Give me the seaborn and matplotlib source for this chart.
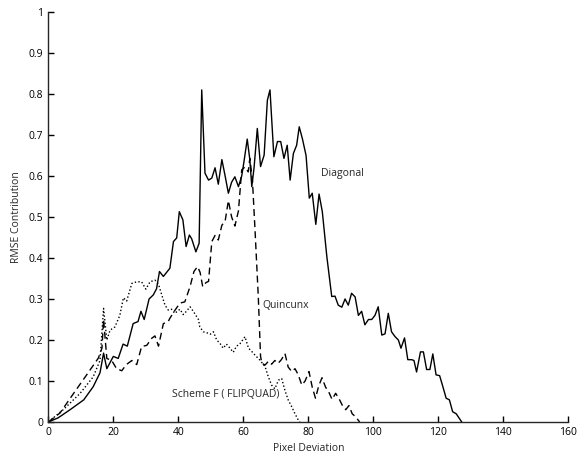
import numpy as np
import pandas as pd
import matplotlib
matplotlib.use("Agg")
import matplotlib.pyplot as plt
import seaborn as sns

# ---- data ----
diag_x = [0, 3, 6.7, 10.9, 13.8, 15.9, 17, 18, 19, 20, 21.5, 23, 24.3, 26.1, 27.6, 28.5, 29.5,
          31, 32.3, 33.3, 34.2, 35.4, 37.4, 38.5, 39.5, 40.3, 41.4, 42.4, 43.4, 44.1, 45.4, 46.4,
          47.2, 48.2, 49.3, 50.3, 51.3, 52.3, 53.4, 54.4, 55.4, 56.4, 57.4, 58.5, 59.5, 60.2, 61.2,
          62, 62.6, 63.3, 64.3, 65.3, 66.4, 67.4, 68.2, 69.4, 70.5, 71.5, 72.5, 73.5, 74.4, 75.4,
          76.4, 77.2, 78.2, 79.3, 80.3, 81.2, 82.3, 83.3, 84.3, 85.7, 87.2, 88.2, 89.2, 90.3, 91.3,
          92.3, 93.3, 94.4, 95.4, 96.4, 97.4, 98.5, 99.5, 100.5, 101.5, 102.6, 103.6, 104.6, 105.6,
          106.7, 107.7, 108.5, 109.6, 110.6, 111.8, 112.5, 113.3, 114.5, 115.4, 116.4, 117.4, 118.3,
          119.3, 120.4, 121.4, 122.4, 123.4, 124.4, 125.5, 127.2]
diag_y = [0, 0.01, 0.03, 0.054, 0.086, 0.12, 0.168, 0.13, 0.145, 0.16, 0.155, 0.19, 0.185, 0.24,
          0.245, 0.27, 0.25, 0.3, 0.31, 0.325, 0.367, 0.355, 0.375, 0.44, 0.449, 0.513, 0.493,
          0.428, 0.456, 0.447, 0.415, 0.436, 0.81, 0.607, 0.59, 0.595, 0.62, 0.58, 0.64, 0.6, 0.558,
          0.585, 0.598, 0.574, 0.6, 0.635, 0.69, 0.64, 0.574, 0.62, 0.716, 0.623, 0.651, 0.785,
          0.81, 0.647, 0.684, 0.684, 0.643, 0.675, 0.59, 0.655, 0.675, 0.72, 0.69, 0.65, 0.546,
          0.558, 0.482, 0.556, 0.513, 0.403, 0.306, 0.307, 0.285, 0.28, 0.3, 0.285, 0.314, 0.305,
          0.26, 0.27, 0.237, 0.25, 0.25, 0.26, 0.281, 0.212, 0.215, 0.265, 0.22, 0.208, 0.2, 0.18,
          0.205, 0.152, 0.152, 0.15, 0.122, 0.171, 0.171, 0.128, 0.128, 0.166, 0.115, 0.113, 0.086,
          0.058, 0.054, 0.025, 0.02, 0]

quin_x = [0, 3.6, 7.8, 11.8, 15.4, 16.5, 17, 18, 19.5, 21, 22.6, 24, 25.7, 27.2, 28.7, 30.3,
          31.8, 32.8, 33.9, 35.4, 36.9, 37.4, 39, 40.5, 42, 43.6, 44.8, 45.9, 46.7, 47.5, 48.5,
          49.3, 50.3, 51.3, 52.3, 53.4, 54.4, 55.4, 56.4, 57.4, 58.5, 59.5, 60.5, 61.5, 62, 62.8,
          63.6, 64.6, 65.3, 65.7, 66.7, 67.7, 68.7, 69.7, 70.7, 71.7, 72.8, 73.8, 74.9, 75.9, 76.9,
          78, 79, 80.2, 81.2, 82.2, 83.2, 84.2, 85.3, 86.3, 87.3, 88.4, 89.5, 90.5, 91.5, 92.5,
          93.5, 94.5, 95.8]
quin_y = [0, 0.022, 0.07, 0.115, 0.156, 0.18, 0.25, 0.155, 0.15, 0.13, 0.125, 0.14, 0.15, 0.14,
          0.184, 0.187, 0.204, 0.21, 0.185, 0.24, 0.245, 0.253, 0.273, 0.29, 0.293, 0.33, 0.367,
          0.379, 0.365, 0.33, 0.34, 0.343, 0.44, 0.455, 0.444, 0.48, 0.49, 0.54, 0.5, 0.478, 0.515,
          0.615, 0.622, 0.61, 0.643, 0.59, 0.468, 0.306, 0.16, 0.143, 0.139, 0.148, 0.141, 0.15,
          0.143, 0.152, 0.167, 0.134, 0.123, 0.13, 0.115, 0.09, 0.1, 0.123, 0.085, 0.058, 0.088,
          0.108, 0.085, 0.073, 0.055, 0.07, 0.056, 0.04, 0.03, 0.04, 0.02, 0.013, 0]

flip_x = [0, 4.6, 9.8, 13.8, 15.9, 17, 18, 19, 20.5, 22, 23.1, 24.1, 25.7, 27.2, 28.7, 30, 31.3,
          32.8, 33.9, 34.9, 35.9, 36.9, 37.9, 38.9, 40.5, 41.5, 42.5, 43.6, 44.6, 46.2, 46.6, 47.7,
          48.7, 49.8, 50.8, 51.8, 52.8, 53.8, 54.8, 55.9, 56.9, 57.9, 58.9, 60.5, 61.6, 62.6, 63.6,
          65.1, 66.7, 67.7, 68.7, 69.7, 70.8, 71.8, 72.8, 73.8, 74.9, 75.9, 76.9, 77.4]
flip_y = [0, 0.03, 0.07, 0.11, 0.15, 0.277, 0.2, 0.224, 0.232, 0.26, 0.303, 0.295, 0.338, 0.342,
          0.342, 0.324, 0.342, 0.346, 0.336, 0.31, 0.285, 0.273, 0.275, 0.265, 0.275, 0.262, 0.27,
          0.281, 0.27, 0.25, 0.232, 0.22, 0.218, 0.214, 0.22, 0.2, 0.192, 0.18, 0.19, 0.18, 0.17,
          0.185, 0.19, 0.208, 0.18, 0.172, 0.163, 0.151, 0.135, 0.11, 0.09, 0.081, 0.102, 0.106,
          0.077, 0.054, 0.037, 0.02, 0.005, 0]

x_ticks = [0, 20, 40, 60, 80, 100, 120, 140, 160]
y_ticks = [0, 0.1, 0.2, 0.3, 0.4, 0.5, 0.6, 0.7, 0.8, 0.9, 1]
y_tick_labels = ["0", "0.1", "0.2", "0.3", "0.4", "0.5", "0.6", "0.7", "0.8", "0.9", "1"]

sns.set_style("ticks")
plt.rcParams.update({
    'font.family': ['Open Sans', 'DejaVu Sans'],
    'font.size': 7.5,
    'xtick.direction': 'in',
    'ytick.direction': 'in',
    'xtick.major.size': 4,
    'ytick.major.size': 4,
    'axes.linewidth': 1.0,
})

fig = plt.figure(figsize=(5.78, 4.62), dpi=100)
ax = fig.add_axes([0.0836, 0.0866, 0.8997, 0.8874])

series = [(diag_x, diag_y, '-'), (quin_x, quin_y, (0, (5, 3))), (flip_x, flip_y, (0, (1, 1.6)))]
for xs, ys, ls in series:
    df = pd.DataFrame({'x': xs, 'y': ys})
    sns.lineplot(data=df, x='x', y='y', ax=ax, color='black', linewidth=1.0,
                 linestyle=ls, estimator=None, sort=False)

ax.text(84, 0.605, 'Diagonal', fontsize=7.5, va='center')
ax.text(66, 0.285, 'Quincunx', fontsize=7.5, va='center')
ax.text(38, 0.066, 'Scheme F ( FLIPQUAD)', fontsize=7.5, va='center')

ax.set_xlim(0, 160)
ax.set_ylim(0, 1)
ax.set_xticks(x_ticks)
ax.set_yticks(y_ticks)
ax.set_yticklabels(y_tick_labels)
ax.tick_params(labelsize=7.5, width=1.0, colors='black')
ax.set_xlabel('Pixel Deviation', fontsize=7.5, labelpad=4)
ax.set_ylabel('RMSE Contribution', fontsize=7.5, labelpad=5)
sns.despine(ax=ax)

fig.savefig('out.png', dpi=100)
